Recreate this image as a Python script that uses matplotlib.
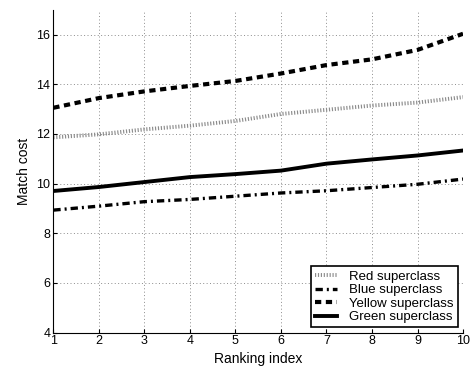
import numpy as np
import matplotlib.pyplot as plt

plt.rcParams['font.family'] = ['Liberation Sans', 'DejaVu Sans']

rank = np.arange(1, 11)
red = [11.86, 11.98, 12.18, 12.33, 12.52, 12.8, 12.97, 13.14, 13.26, 13.48]
blue = [8.93, 9.09, 9.27, 9.36, 9.49, 9.62, 9.71, 9.84, 9.97, 10.18]
yellow = [13.05, 13.44, 13.71, 13.93, 14.13, 14.43, 14.77, 15.0, 15.38, 16.03]
green = [9.7, 9.86, 10.06, 10.26, 10.38, 10.52, 10.8, 10.97, 11.13, 11.33]

fig = plt.figure(figsize=(4.72, 3.72), dpi=100)
ax = fig.add_axes([0.113, 0.106, 0.868, 0.868])

ax.plot(rank, red, color='0.55', lw=2.8, dashes=(0.3, 0.45), label='Red superclass')
ax.plot(rank, blue, color='black', lw=2.4, dashes=(2.2, 1.2, 0.6, 1.2), label='Blue superclass')
ax.plot(rank, yellow, color='black', lw=3.0, dashes=(1.5, 1.1), label='Yellow superclass')
ax.plot(rank, green, color='black', lw=2.8, label='Green superclass')

ax.set_xlim(1, 10)
ax.set_ylim(4, 17)
ax.set_xticks(rank)
ax.set_yticks(np.arange(4, 17, 2))
ax.grid(True, color='0.55', linestyle=(0, (1, 2.5)), lw=0.7)
ax.spines['top'].set_visible(False)
ax.spines['right'].set_visible(False)
ax.tick_params(direction='in', labelsize=9, length=3, pad=2)
ax.set_xlabel('Ranking index', fontsize=10, labelpad=3)
ax.set_ylabel('Match cost', fontsize=10)

leg = ax.legend(loc='lower right', fontsize=9.5, fancybox=False, framealpha=1,
                edgecolor='black', handlelength=1.7, borderpad=0.3,
                labelspacing=0.1, handletextpad=0.9, borderaxespad=0.4)
leg.get_frame().set_linewidth(1.2)

fig.savefig('out.png', dpi=100)
